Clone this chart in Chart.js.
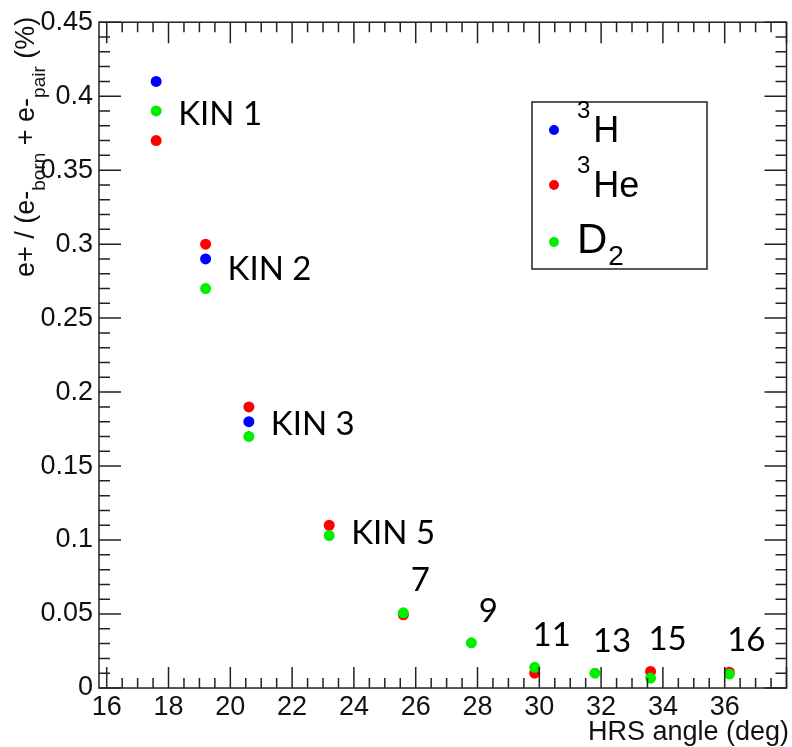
<!DOCTYPE html>
<html>
<head>
<meta charset="utf-8">
<script src="https://cdn.jsdelivr.net/npm/chart.js@4.4.1/dist/chart.umd.min.js"></script>
<style>
  html, body { margin: 0; padding: 0; background: #fff; }
  #wrap { width: 792px; height: 747px; position: relative; }
</style>
</head>
<body>
<div id="wrap"><canvas id="c"></canvas></div>
<script>
// kinematic settings and HRS angles (deg)
const kinLabels = ['KIN 1', 'KIN 2', 'KIN 3', 'KIN 5', '7', '9', '11', '13', '15', '16'];
const angles = [17.6, 19.2, 20.6, 23.2, 25.6, 27.8, 29.85, 31.8, 33.6, 36.15];

// e+ / (e-born + e-pair) in %
const tritium = [0.41, 0.29, 0.18, null, null, null, null, null, null, null];
const helium3 = [0.37, 0.30, 0.19, 0.11, 0.0495, null, 0.010, null, 0.0112, 0.0107];
const deuterium = [0.39, 0.27, 0.17, 0.103, 0.0508, 0.0305, 0.014, 0.010, 0.0067, 0.0094];

const xMin = 15.75, xMax = 38;
const yMin = 0, yMax = 0.45;

const AXIS = '#222';
const tickFont = {family: 'Liberation Sans, Arial, sans-serif', size: 27};

function toPoints(vals) {
    const pts = [];
    vals.forEach((v, i) => {
        if (v !== null) pts.push({x: angles[i], y: v});
    });
    return pts;
}

const rootFrame = {
    id: 'rootFrame',
    afterDraw(chart) {
        const ctx = chart.ctx;
        const a = chart.chartArea;
        const xs = chart.scales.x, ys = chart.scales.y;
        ctx.save();
        ctx.strokeStyle = AXIS;
        ctx.lineWidth = 1.5;
        ctx.strokeRect(a.left, a.top, a.right - a.left, a.bottom - a.top);

        // ticks drawn inside the frame, ROOT style
        ctx.beginPath();
        for (let k = Math.ceil(xMin * 2); k <= Math.floor(xMax * 2); k++) {
            const px = xs.getPixelForValue(k / 2);
            const len = k % 4 === 0 ? 21 : 10;
            ctx.moveTo(px, a.bottom); ctx.lineTo(px, a.bottom - len);
            ctx.moveTo(px, a.top); ctx.lineTo(px, a.top + len);
        }
        for (let k = 0; k <= 45; k++) {
            const py = ys.getPixelForValue(k / 100);
            const len = k % 5 === 0 ? 22 : 11;
            ctx.moveTo(a.left, py); ctx.lineTo(a.left + len, py);
            ctx.moveTo(a.right, py); ctx.lineTo(a.right - len, py);
        }
        ctx.stroke();

        // x title
        ctx.fillStyle = '#111';
        ctx.font = '27px "Liberation Sans", Arial, sans-serif';
        ctx.textAlign = 'right';
        ctx.textBaseline = 'alphabetic';
        ctx.fillText('HRS angle (deg)', 789, 740);

        // y title with subscripts
        ctx.save();
        ctx.translate(34, 277);
        ctx.rotate(-Math.PI / 2);
        ctx.textAlign = 'left';
        const parts = [
            ['e+ / (e-', false], ['born', true], [' + e-', false], ['pair', true], [' (%)', false]
        ];
        let tx = 0;
        parts.forEach(([t, sub]) => {
            ctx.font = (sub ? '19px' : '27px') + ' "Liberation Sans", Arial, sans-serif';
            ctx.fillText(t, tx, sub ? 11 : 0);
            tx += ctx.measureText(t).width;
        });
        ctx.restore();

        // kinematic labels next to each column of points
        ctx.fillStyle = '#000';
        ctx.font = '33px Lato, "Open Sans", sans-serif';
        ctx.textBaseline = 'middle';
        kinLabels.forEach((lab, i) => {
            const vals = [tritium[i], helium3[i], deuterium[i]].filter(v => v !== null);
            const px = xs.getPixelForValue(angles[i]);
            if (lab.startsWith('KIN')) {
                const mid = (Math.max(...vals) + Math.min(...vals)) / 2;
                ctx.textAlign = 'left';
                ctx.fillText(lab, px + 22, ys.getPixelForValue(mid) + 3);
            } else {
                ctx.textAlign = 'center';
                ctx.fillText(lab, px + 17, ys.getPixelForValue(Math.max(...vals)) - 32);
            }
        });

        // legend
        ctx.lineWidth = 1.5;
        ctx.strokeStyle = AXIS;
        ctx.strokeRect(532, 102, 175, 167);
        const rows = [
            {c: '#0000ff', dy: 130, base: 142, sup: '3', main: 'H'},
            {c: '#ff0000', dy: 185, base: 197, sup: '3', main: 'He'},
            {c: '#00ee00', dy: 242, base: 253, main: 'D', sub: '2'}
        ];
        ctx.textAlign = 'left';
        ctx.textBaseline = 'alphabetic';
        rows.forEach(r => {
            ctx.fillStyle = r.c;
            ctx.beginPath();
            ctx.arc(554, r.dy, 5, 0, Math.PI * 2);
            ctx.fill();
            ctx.fillStyle = '#000';
            let x = 577;
            if (r.sup) {
                ctx.font = '24px "Liberation Sans", Arial, sans-serif';
                ctx.fillText(r.sup, x, r.base - 24);
                x += ctx.measureText(r.sup).width + 3;
                ctx.font = '36px "Liberation Sans", Arial, sans-serif';
                ctx.fillText(r.main, x, r.base);
            } else {
                ctx.font = '42px "Liberation Sans", Arial, sans-serif';
                ctx.fillText(r.main, x, r.base);
                x += ctx.measureText(r.main).width + 1;
                ctx.font = '28px "Liberation Sans", Arial, sans-serif';
                ctx.fillText(r.sub, x, r.base + 12);
            }
        });
        ctx.restore();
    }
};

new Chart(document.getElementById('c'), {
    type: 'scatter',
    data: {
        datasets: [
            {label: '3H', data: toPoints(tritium), backgroundColor: '#0000ff', order: 2},
            {label: '3He', data: toPoints(helium3), backgroundColor: '#ff0000', order: 1},
            {label: 'D2', data: toPoints(deuterium), backgroundColor: '#00ee00', order: 0}
        ]
    },
    options: {
        responsive: true,
        maintainAspectRatio: false,
        animation: false,
        layout: {padding: {top: 17, right: 0, left: 0, bottom: 0}},
        elements: {point: {radius: 5.5, borderWidth: 0, hoverRadius: 5.5}},
        plugins: {legend: {display: false}, tooltip: {enabled: false}},
        scales: {
            x: {
                type: 'linear',
                min: xMin,
                max: xMax,
                grid: {display: false, drawTicks: false},
                border: {display: false},
                afterFit: s => { s.height = 59; },
                ticks: {
                    stepSize: 2,
                    includeBounds: false,
                    maxRotation: 0,
                    autoSkip: false,
                    padding: 3,
                    color: '#111',
                    font: tickFont,
                    callback: v => (v > 37 ? '' : String(v))
                }
            },
            y: {
                min: yMin,
                max: yMax,
                grid: {display: false, drawTicks: false},
                border: {display: false},
                afterFit: s => { s.width = 99; },
                ticks: {
                    stepSize: 0.05,
                    padding: 6,
                    color: '#111',
                    font: tickFont,
                    callback: v => String(Number(v.toFixed(2)))
                }
            }
        }
    },
    plugins: [rootFrame]
});
</script>
</body>
</html>
